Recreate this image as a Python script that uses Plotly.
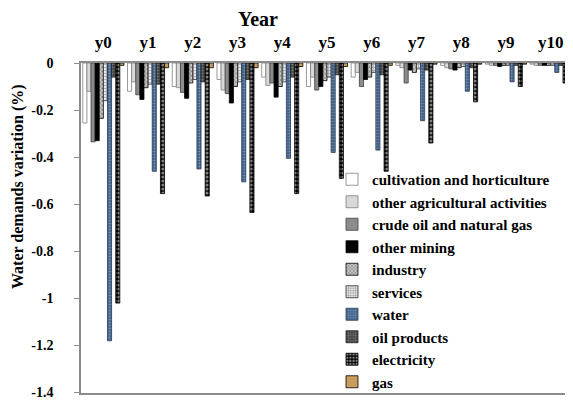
import plotly.graph_objects as go

years = ["y0", "y1", "y2", "y3", "y4", "y5", "y6", "y7", "y8", "y9", "y10"]

cultivation = [-0.255, -0.12, -0.10, -0.07, -0.06, -0.10, -0.06, -0.01, -0.01, -0.005, -0.005]
other_agri = [-0.12, -0.08, -0.105, -0.115, -0.095, -0.06, -0.04, -0.02, -0.02, -0.01, -0.01]
crude_oil = [-0.335, -0.135, -0.125, -0.13, -0.085, -0.115, -0.10, -0.085, -0.025, -0.01, -0.01]
other_mining = [-0.33, -0.155, -0.15, -0.17, -0.145, -0.10, -0.07, -0.03, -0.03, -0.015, -0.01]
industry = [-0.235, -0.105, -0.085, -0.10, -0.10, -0.075, -0.06, -0.04, -0.02, -0.01, -0.01]
services = [-0.16, -0.09, -0.07, -0.08, -0.08, -0.06, -0.04, -0.025, -0.015, -0.01, -0.01]
water = [-1.18, -0.46, -0.45, -0.505, -0.405, -0.38, -0.37, -0.245, -0.12, -0.08, -0.04]
oil_products = [-0.06, -0.09, -0.08, -0.07, -0.06, -0.05, -0.05, -0.03, -0.02, -0.01, -0.01]
electricity = [-1.02, -0.555, -0.565, -0.635, -0.555, -0.49, -0.46, -0.34, -0.165, -0.10, -0.085]
gas = [-0.01, -0.02, -0.02, -0.02, -0.015, -0.015, -0.01, -0.005, -0.005, -0.005, -0.005]

y_ticks = [0, -0.2, -0.4, -0.6, -0.8, -1, -1.2, -1.4]
y_tick_labels = ["0", "-0.2", "-0.4", "-0.6", "-0.8", "-1", "-1.2", "-1.4"]

series = [
    ("cultivation and horticulture", cultivation, dict(color="white", line=dict(color="#7f7f7f", width=0.8))),
    ("other agricultural activities", other_agri, dict(color="#d9d9d9", line=dict(color="#7f7f7f", width=0.8))),
    ("crude oil and natural gas", crude_oil, dict(color="#8c8c8c", line=dict(color="#404040", width=0.8))),
    ("other mining", other_mining, dict(color="black", line=dict(color="black", width=0.8))),
    ("industry", industry, dict(color="#a0a0a0", line=dict(color="black", width=0.8),
                                pattern=dict(shape="x", fgcolor="#303030", bgcolor="#c8c8c8", size=3, solidity=0.4))),
    ("services", services, dict(color="#d0d0d0", line=dict(color="#303030", width=0.8),
                                pattern=dict(shape="+", fgcolor="#505050", bgcolor="#e8e8e8", size=3, solidity=0.4))),
    ("water", water, dict(color="#5b7ea8", line=dict(color="#2a3a50", width=0.8),
                          pattern=dict(shape=".", fgcolor="#a8c4e4", bgcolor="#3f5f86", size=3, solidity=0.4))),
    ("oil products", oil_products, dict(color="#606060", line=dict(color="#202020", width=0.8),
                                        pattern=dict(shape=".", fgcolor="#b0b0b0", bgcolor="#404040", size=3, solidity=0.4))),
    ("electricity", electricity, dict(color="black", line=dict(color="black", width=0.8),
                                      pattern=dict(shape=".", fgcolor="white", bgcolor="black", size=4, solidity=0.5))),
    ("gas", gas, dict(color="#c89c5a", line=dict(color="black", width=0.8))),
]

fig = go.Figure()
for i, (name, vals, marker) in enumerate(series):
    fig.add_trace(go.Bar(name=f"<b>{name}</b>", x=years, y=vals, marker=marker, legendgroup=f"g{i}"))

font_family = "Liberation Serif"

# page body has an 8px margin, so the figure is drawn 8px smaller and offset
OFF = 8
W, H = 573 - OFF, 401 - OFF
L, T = 81 - OFF, 63 - OFF
B = H - (393 - OFF)
PW, PH = W - L, H - T - B

fig.update_layout(
    width=W, height=H,
    margin=dict(l=L, r=0, t=T, b=B, autoexpand=False),
    paper_bgcolor="white", plot_bgcolor="white",
    barmode="group", bargap=0.08, bargroupgap=0,
    font=dict(family=font_family, color="black"),
    showlegend=True,
    legend=dict(x=(324 - L) / PW, y=1 - (163 - 63) / PH, xanchor="left", yanchor="top",
                font=dict(family=font_family, size=15, color="black"),
                bgcolor="rgba(0,0,0,0)", tracegroupgap=0, itemwidth=30),
    xaxis=dict(side="top", showline=True, linecolor="#8c8c8c", linewidth=1.5, mirror=True,
               ticks="", showgrid=False, automargin=False, ticklabelstandoff=6,
               tickfont=dict(size=17, family=font_family, weight="bold")),
    yaxis=dict(range=[-1.402, 0], showline=True, linecolor="#8c8c8c", linewidth=1.5,
               ticks="outside", ticklen=5, tickcolor="#8c8c8c", showgrid=False, zeroline=False,
               automargin=False, ticklabelstandoff=18, ticklabeloverflow="allow",
               tickvals=y_ticks, ticktext=y_tick_labels,
               tickfont=dict(size=14, family=font_family, weight="bold")),
    annotations=[
        dict(text="<b>Year</b>", xref="paper", yref="paper", x=(258 - 81) / PW, y=1 + (63 - 19) / PH,
             xanchor="center", yanchor="middle", showarrow=False,
             font=dict(size=20, family=font_family)),
        dict(text="<b>Water demands variation (%)</b>", xref="paper", yref="paper",
             x=-(81 - 18) / PW, y=1 - (187 - 63) / PH, textangle=-90,
             xanchor="center", yanchor="middle", showarrow=False,
             font=dict(size=16, family=font_family)),
    ],
)

fig.write_html("out.html")
